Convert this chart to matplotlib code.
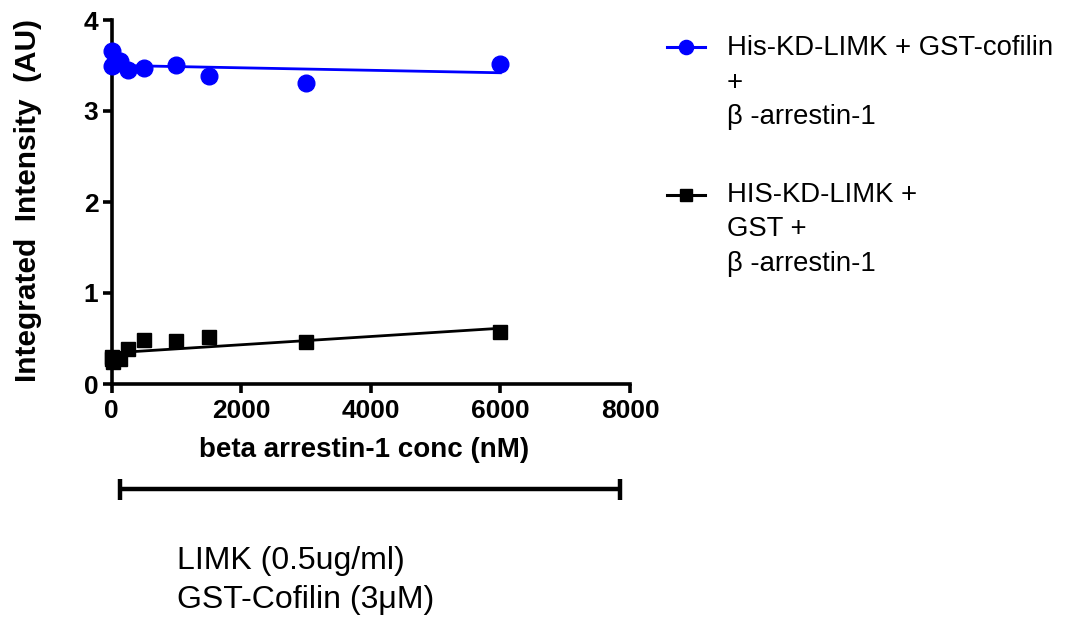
import numpy as np
import matplotlib
matplotlib.use("Agg")
import matplotlib.pyplot as plt
from matplotlib.lines import Line2D

# beta arrestin-1 concentrations (nM)
conc_nm = [0, 15, 30, 125, 250, 500, 1000, 1500, 3000, 6000]

# integrated intensity (AU) for each reaction
cofilin_intensity = [3.49, 3.66, 3.51, 3.55, 3.45, 3.47, 3.51, 3.38, 3.31, 3.52]
gst_intensity = [0.27, 0.30, 0.24, 0.27, 0.39, 0.48, 0.47, 0.52, 0.46, 0.57]

series_labels = [
    "His-KD-LIMK + GST-cofilin\n+\nβ -arrestin-1",
    "HIS-KD-LIMK +\nGST +\nβ -arrestin-1",
]

x_ticks = [0, 2000, 4000, 6000, 8000]
y_ticks = [0, 1, 2, 3, 4]

x_label = "beta arrestin-1 conc (nM)"
y_label = "Integrated  Intensity  (AU)"
condition_lines = ["LIMK (0.5ug/ml)", "GST-Cofilin (3μM)"]

plt.rcParams["font.family"] = ["Liberation Sans", "DejaVu Sans"]

W, H = 1074, 621
fig = plt.figure(figsize=(W / 100, H / 100), dpi=100)


def fx(px):
    return px / W


def fy(py):
    return 1 - py / H


ax = fig.add_axes([fx(111.5), fy(384), fx(630) - fx(111.5), fy(20) - fy(384)])

for side in ("top", "right"):
    ax.spines[side].set_visible(False)
for side in ("left", "bottom"):
    ax.spines[side].set_linewidth(2.6)

ax.set_xlim(0, 8000)
ax.set_ylim(0, 4)
ax.set_xticks(x_ticks)
ax.set_yticks(y_ticks)
ax.tick_params(axis="both", direction="out", length=6.5, width=2.6,
               labelsize=19, pad=3)
for lab in ax.get_xticklabels() + ax.get_yticklabels():
    lab.set_fontweight("bold")
ax.tick_params(axis="x", pad=4)

ax.set_xlabel(x_label, fontsize=20, fontweight="bold")
ax.xaxis.set_label_coords(0.487, -0.145)
ax.set_ylabel(y_label, fontsize=21.5, fontweight="bold")
ax.yaxis.set_label_coords(-0.135, 0.505)

series = [
    (cofilin_intensity, "#0000FF", "o", 12),
    (gst_intensity, "#000000", "s", 10.5),
]

x = np.array(conc_nm, dtype=float)
for values, color, marker, ms in series:
    y = np.array(values, dtype=float)
    slope, intercept = np.polyfit(x, y, 1)
    xs = np.array([x.min(), x.max()])
    ax.plot(xs, slope * xs + intercept, color=color, lw=2.0, zorder=2,
            clip_on=False)
    ax.plot(x, y, linestyle="none", marker=marker, color=color, ms=ms,
            zorder=3, clip_on=False)

# legend drawn at the right of the plot, handle beside first label line
legend_rows = [(47, 55), (195, 202)]
for (handle_y, base_y), label, (values, color, marker, ms) in zip(
        legend_rows, series_labels, series):
    fig.add_artist(Line2D([fx(667), fx(705)], [fy(handle_y), fy(handle_y)],
                          color=color, lw=2.2, transform=fig.transFigure))
    fig.add_artist(Line2D([fx(686)], [fy(handle_y)], color=color,
                          marker=marker, ms=ms * 0.85, linestyle="none",
                          transform=fig.transFigure))
    for i, line in enumerate(label.split("\n")):
        fig.text(fx(727), fy(base_y + i * 34.5), line, fontsize=19.8,
                 va="baseline", ha="left")

# bracket spanning the concentration range
bracket_kw = dict(color="black", lw=3.2, solid_capstyle="butt",
                  transform=fig.transFigure)
fig.add_artist(Line2D([fx(118), fx(622)], [fy(489), fy(489)], **bracket_kw))
fig.add_artist(Line2D([fx(120), fx(120)], [fy(479), fy(500)], **bracket_kw))
fig.add_artist(Line2D([fx(620), fx(620)], [fy(479), fy(500)], **bracket_kw))

for i, line in enumerate(condition_lines):
    fig.text(fx(177), fy(569 + i * 39), line, fontsize=23,
             va="baseline", ha="left")

fig.savefig("out.png", dpi=100)
